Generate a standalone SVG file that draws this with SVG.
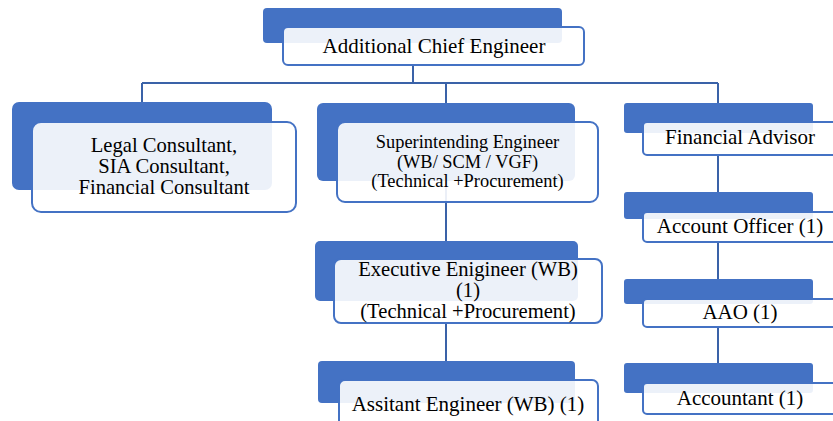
<svg xmlns="http://www.w3.org/2000/svg" width="833" height="421" viewBox="0 0 833 421">
<style>
.bk{fill:#4472C4}
.fr{fill:#FFFFFF;fill-opacity:0.9;stroke:#4472C4;stroke-width:2}
.t{font-family:'Liberation Serif','Times New Roman',serif;font-size:21px;fill:#000000;text-anchor:middle}
.m{font-size:20.6px}
.s{font-size:18.4px}
.c{fill:none;stroke:#3A62A8;stroke-width:2}
</style>
<rect width="833" height="421" fill="#FFFFFF"/>
<g id="connectors">
<path class="c" d="M413 65V83M142 83H718M142 83V103M446 83V241M446 323V361M718 83V103M718 155V192M718 242V279M718 327V363"/>
</g>
<g id="ace">
<rect class="bk" x="263" y="8" width="299" height="35" rx="4"/>
<rect class="fr" x="283" y="27" width="301" height="38" rx="5"/>
<text class="t" x="434" y="53">Additional Chief Engineer</text>
</g>
<g id="consultants">
<rect class="bk" x="12" y="102" width="260" height="88" rx="7"/>
<rect class="fr" x="32" y="122" width="264" height="90" rx="9"/>
<text class="t m" x="164" y="152">Legal Consultant,</text>
<text class="t m" x="164" y="173">SIA Consultant,</text>
<text class="t m" x="164" y="194">Financial Consultant</text>
</g>
<g id="se">
<rect class="bk" x="317" y="103" width="258" height="78" rx="6"/>
<rect class="fr" x="337" y="122" width="261" height="80" rx="8"/>
<text class="t s" x="467.5" y="148">Superintending Engineer</text>
<text class="t s" x="467.5" y="168">(WB/ SCM / VGF)</text>
<text class="t s" x="467.5" y="187">(Technical +Procurement)</text>
</g>
<g id="ee">
<rect class="bk" x="315" y="241" width="263" height="60" rx="5"/>
<rect class="fr" x="334" y="259" width="268" height="64" rx="7"/>
<text class="t m" x="468" y="276">Executive Enigineer (WB)</text>
<text class="t m" x="468" y="297">(1)</text>
<text class="t m" x="468" y="318">(Technical +Procurement)</text>
</g>
<g id="ae">
<rect class="bk" x="318" y="361" width="257" height="42" rx="4"/>
<rect class="fr" x="339" y="380" width="259" height="50" rx="6"/>
<text class="t" x="468" y="411">Assitant Engineer (WB) (1)</text>
</g>
<g id="fa">
<rect class="bk" x="624" y="103" width="189" height="30" rx="3"/>
<rect class="fr" x="643" y="122" width="196" height="33" rx="4"/>
<text class="t" x="740" y="144">Financial Advisor</text>
</g>
<g id="ao">
<rect class="bk" x="624" y="192" width="189" height="27" rx="3"/>
<rect class="fr" x="643" y="212" width="196" height="30" rx="4"/>
<text class="t" x="740" y="233">Account Officer (1)</text>
</g>
<g id="aao">
<rect class="bk" x="624" y="279" width="189" height="25" rx="3"/>
<rect class="fr" x="643" y="299" width="196" height="28" rx="4"/>
<text class="t" x="740" y="319">AAO (1)</text>
</g>
<g id="accountant">
<rect class="bk" x="624" y="363" width="189" height="30" rx="3"/>
<rect class="fr" x="643" y="383" width="196" height="31" rx="4"/>
<text class="t" x="740" y="405">Accountant (1)</text>
</g>
</svg>
